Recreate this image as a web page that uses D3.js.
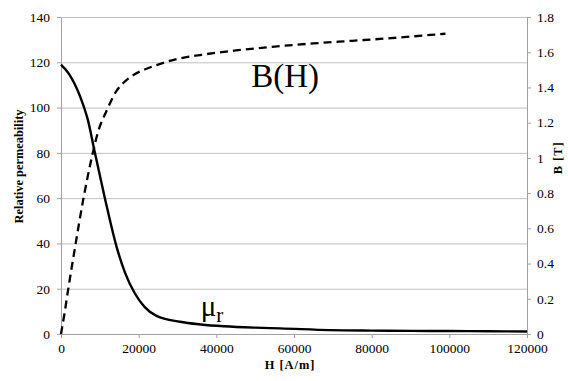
<!DOCTYPE html>
<html lang="en">
<head>
<meta charset="UTF-8">
<title>Relative permeability and B(H)</title>
<style>
    body { margin: 0; background: #fff; font-family: "Liberation Serif", serif; }
    svg { display: block; }
    .axis .domain { stroke: #a0a0a0; }
    .axis .tick line { stroke: #a0a0a0; }
    .grid line { stroke: #c0c0c0; stroke-width: 1px; }
    .mu { stroke: #000; stroke-width: 2.4px; fill: none; }
    .bh { stroke: #000; stroke-width: 2.3px; fill: none; stroke-dasharray: 8px 5px; }
</style>
<script src="https://cdn.jsdelivr.net/npm/d3@7"></script>
</head>
<body>
<script>
    // field strength H [A/m] and relative permeability
    const muH = [0, 2000, 4900, 7000, 8600, 11300, 14300, 16500, 19000, 21500, 24600, 30600, 36000, 42000, 50000, 56400, 69300, 80000, 90000, 100000, 110000, 120000];
    const muR = [119, 115, 105, 94, 81, 60, 38.6, 27, 18, 12, 8, 5.4, 4.2, 3.4, 2.8, 2.5, 1.7, 1.5, 1.4, 1.3, 1.2, 1.1];

    // B(H) curve, B in tesla
    const bH = [0, 1000, 1900, 3600, 5700, 7900, 9500, 11800, 14300, 16500, 18600, 21500, 24600, 30600, 35800, 45000, 55000, 65000, 75000, 85000, 95000, 99000];
    const bT = [0, 0.13, 0.26, 0.49, 0.76, 1.0, 1.145, 1.27, 1.38, 1.435, 1.47, 1.502, 1.527, 1.565, 1.584, 1.61, 1.632, 1.65, 1.665, 1.68, 1.698, 1.705];

    const xTicks = [0, 20000, 40000, 60000, 80000, 100000, 120000];
    const yTicks = [0, 20, 40, 60, 80, 100, 120, 140];
    const y2Ticks = [0, 0.2, 0.4, 0.6, 0.8, 1, 1.2, 1.4, 1.6, 1.8];

    const width = 568, height = 381;
    const margins = { top: 17, bottom: 47, left: 61, right: 41 };
    const serif = "'Liberation Serif', 'Times New Roman', serif";

    const svg = d3.select("body").append("svg")
        .attr("width", width)
        .attr("height", height)
        .style("font-family", serif);

    const xScale = d3.scaleLinear().domain([0, 120000]).range([margins.left, width - margins.right]);
    const yScale = d3.scaleLinear().domain([0, 140]).range([height - margins.bottom, margins.top]);
    const y2Scale = d3.scaleLinear().domain([0, 1.8]).range([height - margins.bottom, margins.top]);

    // horizontal grid lines
    svg.append("g").attr("class", "grid")
        .selectAll("line")
        .data(yTicks.filter(d => d > 0))
        .enter()
        .append("line")
        .attr("x1", margins.left)
        .attr("x2", width - margins.right)
        .attr("y1", d => yScale(d) + 0.5)
        .attr("y2", d => yScale(d) + 0.5);

    // axes
    function styleAxis(g) {
        g.attr("font-family", null).attr("font-size", null);
        g.selectAll("text")
            .style("font-family", serif)
            .style("font-size", "13.5px")
            .attr("fill", "#000");
    }

    svg.append("g").attr("class", "axis")
        .attr("transform", `translate(0,${height - margins.bottom})`)
        .call(d3.axisBottom(xScale).tickValues(xTicks).tickSize(4).tickSizeOuter(0).tickPadding(5).tickFormat(d3.format("d")))
        .call(styleAxis);

    svg.append("g").attr("class", "axis")
        .attr("transform", `translate(${margins.left},0)`)
        .call(d3.axisLeft(yScale).tickValues(yTicks).tickSize(4).tickSizeOuter(0).tickPadding(7))
        .call(styleAxis);

    svg.append("g").attr("class", "axis")
        .attr("transform", `translate(${width - margins.right},0)`)
        .call(d3.axisRight(y2Scale).tickValues(y2Ticks).tickSize(4).tickSizeOuter(0).tickPadding(6).tickFormat(d => d3.format("")(d)))
        .call(styleAxis);

    // curves
    const muLine = d3.line()
        .x(d => xScale(d[0]))
        .y(d => yScale(d[1]))
        .curve(d3.curveMonotoneX);

    const bLine = d3.line()
        .x(d => xScale(d[0]))
        .y(d => y2Scale(d[1]))
        .curve(d3.curveMonotoneX);

    svg.append("path")
        .attr("class", "bh")
        .attr("d", bLine(d3.zip(bH, bT)));

    svg.append("path")
        .attr("class", "mu")
        .attr("d", muLine(d3.zip(muH, muR)));

    // curve names
    svg.append("text")
        .attr("x", xScale(57700))
        .attr("y", y2Scale(1.4))
        .style("font-family", serif)
        .style("font-size", "33px")
        .style("text-anchor", "middle")
        .text("B(H)");

    const mu = svg.append("text")
        .attr("x", xScale(36000))
        .attr("y", yScale(7.8))
        .style("font-family", serif)
        .style("font-size", "29px");
    mu.append("tspan").text("μ");
    mu.append("tspan").style("font-size", "21px").attr("dy", "6").text("r");

    // axis titles
    function label(sel) {
        sel.style("font-family", serif)
            .style("font-weight", "bold")
            .style("font-size", "12.4px")
            .style("text-anchor", "middle");
    }

    svg.append("text")
        .attr("transform", `translate(23,${yScale(74)}) rotate(-90)`)
        .call(label)
        .text("Relative permeability");

    svg.append("text")
        .attr("transform", `translate(562,${y2Scale(1.0)}) rotate(-90)`)
        .call(label)
        .style("letter-spacing", "1px")
        .text("B [T]");

    svg.append("text")
        .attr("x", xScale(59000))
        .attr("y", 369)
        .call(label)
        .style("letter-spacing", "1px")
        .text("H [A/m]");
</script>
</body>
</html>
